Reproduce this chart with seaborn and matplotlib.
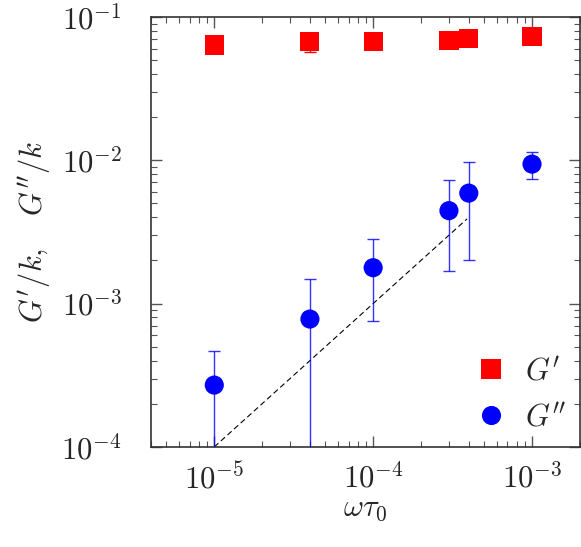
import numpy as np
import pandas as pd
import matplotlib
matplotlib.use('Agg')
import matplotlib.pyplot as plt
import matplotlib.ticker as mticker
import seaborn as sns

# dados
omega_tau = [1e-5, 4e-5, 1e-4, 3e-4, 4e-4, 1e-3]
g_prime = [0.0638, 0.0673, 0.0673, 0.0687, 0.0703, 0.0733]
g_prime_err = [0.004, 0.010, 0.003, 0.003, 0.003, 0.003]
g_second = [2.7e-4, 7.8e-4, 1.78e-3, 4.45e-3, 5.9e-3, 9.4e-3]
g_second_lo = [5e-5, 5e-5, 7.5e-4, 1.68e-3, 2.0e-3, 7.4e-3]
g_second_hi = [4.65e-4, 1.48e-3, 2.81e-3, 7.24e-3, 9.7e-3, 1.15e-2]
guide_x = [1e-5, 3.9e-4]
guide_y = [1e-4, 3.9e-3]

sns.set_style('ticks')
plt.rcParams['mathtext.fontset'] = 'cm'
plt.rcParams['font.family'] = ['DejaVu Serif']
# ticks para dentro, em todos os lados
plt.rcParams.update({
    'xtick.direction': 'in', 'ytick.direction': 'in',
    'xtick.top': True, 'ytick.right': True,
    'xtick.major.size': 8, 'ytick.major.size': 8,
    'xtick.minor.size': 4, 'ytick.minor.size': 4,
    'xtick.major.width': 1, 'ytick.major.width': 1,
    'xtick.minor.width': 0.8, 'ytick.minor.width': 0.8,
    'xtick.major.pad': 12, 'ytick.major.pad': 21,
    'xtick.labelsize': 22, 'ytick.labelsize': 22,
})

df = pd.DataFrame({
    'x': omega_tau * 2,
    'y': g_prime + g_second,
    'serie': ["$G'$"] * 6 + ["$G''$"] * 6,
})

fig = plt.figure(figsize=(5.81, 5.47), dpi=100)
ax = fig.add_axes([0.26, 0.183, 0.738, 0.786])

# barras de erro
ax.errorbar(omega_tau, g_prime, yerr=[g_prime_err, g_prime_err], fmt='none',
            ecolor='red', elinewidth=1, capsize=4, capthick=1, zorder=2)
g2 = np.array(g_second)
ax.errorbar(omega_tau, g_second,
            yerr=[g2 - np.array(g_second_lo), np.array(g_second_hi) - g2],
            fmt='none', ecolor='blue', elinewidth=1, capsize=4, capthick=1,
            alpha=0.8, zorder=2)

ax.plot(guide_x, guide_y, ls='--', color='black', lw=0.8, dashes=(5, 3), zorder=1)

sns.scatterplot(data=df, x='x', y='y', hue='serie', style='serie',
                palette={"$G'$": 'red', "$G''$": 'blue'},
                markers={"$G'$": 's', "$G''$": 'o'}, s=190,
                edgecolor='none', ax=ax, zorder=3)

ax.set_xscale('log')
ax.set_yscale('log')
ax.set_xlim(4e-6, 2e-3)
ax.set_ylim(1e-4, 1e-1)

for sp in ax.spines.values():
    sp.set_color('#333333')
    sp.set_linewidth(1.2)

ax.set_xlabel(r'$\omega\tau_0$', fontsize=22, labelpad=-3)
ax.set_ylabel(r"$G'/k,\quad G''/k$", fontsize=22, labelpad=6)

leg = ax.legend(loc='lower right', frameon=False, fontsize=22, title=None,
                handletextpad=0.1, labelspacing=0.5, markerscale=1.0,
                borderaxespad=0.05)

# ticks por último
minor_locs = [k * 10.0 ** e for e in range(-7, 0) for k in range(2, 10)]
fmt = mticker.FuncFormatter(lambda v, p: r'$10^{%d}$' % round(np.log10(v)))
for axis in (ax.xaxis, ax.yaxis):
    axis.set_major_locator(mticker.LogLocator(base=10, numticks=10))
    axis.set_minor_locator(mticker.FixedLocator(minor_locs))
    axis.set_major_formatter(fmt)
    axis.set_minor_formatter(mticker.NullFormatter())
ax.tick_params(which='both', direction='in', top=True, right=True, color='#555555')
ax.tick_params(which='minor', length=4, width=0.8)

# desenha uma vez antes de salvar (assim os ticks menores aparecem)
fig.canvas.draw()
ax.tick_params(which='minor', length=4, width=0.8, color='#555555')
plt.savefig('out.png', dpi=100)
